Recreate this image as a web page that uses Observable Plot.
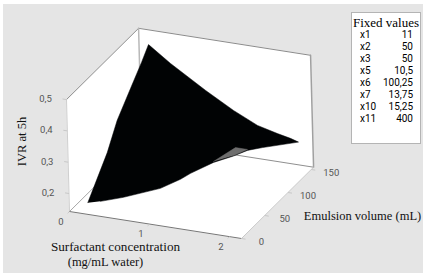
<!DOCTYPE html>
<html>
<head>
<meta charset="utf-8">
<script src="https://cdn.jsdelivr.net/npm/d3@7"></script>
<script src="https://cdn.jsdelivr.net/npm/@observablehq/plot@0.6"></script>
<style>
html,body{margin:0;padding:0;background:#fff;width:427px;height:275px;overflow:hidden}
#wrap{position:absolute;left:3px;top:4px;width:420px;height:269px;background:#e5e5e5}
#legend{position:absolute;left:348px;top:8px;width:68px;height:130px;background:#fff;border:1px solid #b4b4b4;color:#000}
#legend .t{font:13px "Liberation Serif",serif;text-align:center;margin-top:3px;height:13px;line-height:13px;white-space:nowrap}
#legend table{border-collapse:collapse;margin:0;position:absolute;left:8px;top:16px;width:53px;font:10px Roboto,sans-serif}
#legend td{padding:0;height:12px;line-height:12px}
#legend td+td{text-align:right}
</style>
</head>
<body>
<div id="wrap"></div>
<script>
// axis ranges
const surfactantMax = 2.15, volumeMax = 155, ivrMin = 0.1425, ivrMax = 0.5;
// axis ticks
const surfactantTicks = [0, 1, 2];
const volumeTicks = [0, 50, 100, 150];
const ivrTicks = [0.2, 0.3, 0.4, 0.5];
// surface outline
const surfaceS = [0.2325,0.245,0.296,0.269,0.268,0.235,0.239,0.479,0.911,1.254,1.55,1.797,1.959,1.999,1.636,1.535,1.419,1.255,1.053,0.984,0.849,0.5625,0.345];
const surfaceV = [0,10,33,60,90,120,135,140,140,140,140,140,140,150,135,120,110,95,80,70,50,20,8];
const surfaceZ = [0.18,0.21,0.294,0.356,0.414,0.452,0.487,0.429,0.36,0.31,0.274,0.258,0.249,0.224,0.214,0.223,0.215,0.21,0.189,0.182,0.177,0.181,0.177];
// underside of the surface showing through
const undersideS = [1.255,1.446,1.536,1.419];
const undersideV = [95,110,120,110];
const undersideZ = [0.213,0.243,0.226,0.217];
// fixed values table
const fixedNames = ["x1","x2","x3","x5","x6","x7","x10","x11"];
const fixedValues = ["11","50","50","10,5","100,25","13,75","15,25","400"];

// oblique view of the three data axes
const X = (s, v, z) => 69 + 80 * s + 0.465 * v - 8.4 * (z - ivrMin);
const Y = (s, v, z) => 211 + 12.56 * s - 0.46 * v - 313 * (z - ivrMin);
const P = ([s, v, z]) => ({x: X(s, v, z), y: Y(s, v, z)});
const path = (a) => a.map(P);

const S = surfactantMax, V = volumeMax, L = ivrMin, H = ivrMax;
const surface = surfaceS.map((s, i) => P([s, surfaceV[i], surfaceZ[i]]));
const underside = undersideS.map((s, i) => P([s, undersideV[i], undersideZ[i]]));

const link = (a, b) => ({x1: X(...a), y1: Y(...a), x2: X(...b), y2: Y(...b)});
const ticksS = surfactantTicks.map(t => link([t, 0, L], [t, -4, L]));
const ticksV = volumeTicks.map(t => link([S, t, L], [S + 0.05, t, L]));
const ticksZ = ivrTicks.map(t => link([0, 0, t], [-0.05, 0, t]));
const labelsS = surfactantTicks.map(t => ({...P([t, 0, L]), t: String(t)}));
const labelsV = volumeTicks.map(t => ({...P([S, t, L]), t: String(t)}));
const labelsZ = ivrTicks.map(t => ({...P([0, 0, t]), t: String(t).replace(".", ",")}));

const fill = (a, color) => Plot.line(a, {x: "x", y: "y", fill: color, stroke: color, strokeWidth: 0.5});
const edge = (a, color, w) => Plot.line(path(a), {x: "x", y: "y", stroke: color, strokeWidth: w});
const sans = {fontFamily: "Roboto", fontSize: 9.5, fill: "#555"};
const serif = {fontFamily: "Liberation Serif", fontSize: 12.5, fill: "#111"};

const chart = Plot.plot({
  width: 420, height: 269,
  margin: 0,
  style: {background: "transparent", overflow: "visible"},
  x: {axis: null, domain: [3, 423], range: [0, 420]},
  y: {axis: null, domain: [4, 273], range: [0, 269]},
  marks: [
    fill(path([[0,V,L],[0,V,H],[S,V,H],[S,V,L]]), "#fff"),
    fill(path([[0,0,L],[0,0,H],[0,V,H],[0,V,L]]), "#fff"),
    fill(path([[0,0,L],[S,0,L],[S,V,L],[0,V,L]]), "#fff"),
    edge([[0,0,H],[0,V,H],[S,V,H]], "#8c8c8c", 1),
    edge([[S,V,H],[S,V,L]], "#a0a0a0", 1.5),
    edge([[0,0,H],[0,0,L]], "#cfcfcf", 1),
    edge([[0,V,H],[0,V,L]], "#b8b8b8", 1.5),
    edge([[0,V,L],[S,V,L]], "#909090", 1),
    edge([[0,0,L],[0,V,L]], "#a8a8a8", 1),
    edge([[0,0,L],[S,0,L]], "#777", 1),
    edge([[S,0,L],[S,V,L]], "#c8c8c8", 1),
    fill(surface, "#010304"),
    fill(underside, "#6e6e6e"),
    Plot.link(ticksS, {x1: "x1", y1: "y1", x2: "x2", y2: "y2", stroke: "#c8c8c8"}),
    Plot.link(ticksV, {x1: "x1", y1: "y1", x2: "x2", y2: "y2", stroke: "#c8c8c8"}),
    Plot.link(ticksZ, {x1: "x1", y1: "y1", x2: "x2", y2: "y2", stroke: "#c8c8c8"}),
    Plot.text(labelsS, {x: "x", y: "y", text: "t", dx: -8.5, dy: 10, ...sans}),
    Plot.text(labelsV, {x: "x", y: "y", text: "t", dx: 20, dy: 3.5, ...sans}),
    Plot.text(labelsZ, {x: "x", y: "y", text: "t", dx: -21, dy: -0.5, ...sans}),
    Plot.text(["IVR at 5h"], {x: () => 21.5, y: () => 141, rotate: -90, ...serif}),
    Plot.text(["Surfactant concentration"], {x: () => 115, y: () => 246, ...serif, fontSize: 13.2}),
    Plot.text(["(mg/mL water)"], {x: () => 105, y: () => 261, ...serif}),
    Plot.text(["Emulsion volume (mL)"], {x: () => 362, y: () => 215, ...serif})
  ]
});
document.getElementById("wrap").append(chart);

const legend = document.createElement("div");
legend.id = "legend";
legend.innerHTML = '<div class="t">Fixed values</div><table>' +
  fixedNames.map((n, i) => `<tr><td>${n}</td><td>${fixedValues[i]}</td></tr>`).join("") + "</table>";
document.getElementById("wrap").append(legend);
</script>
</body>
</html>
